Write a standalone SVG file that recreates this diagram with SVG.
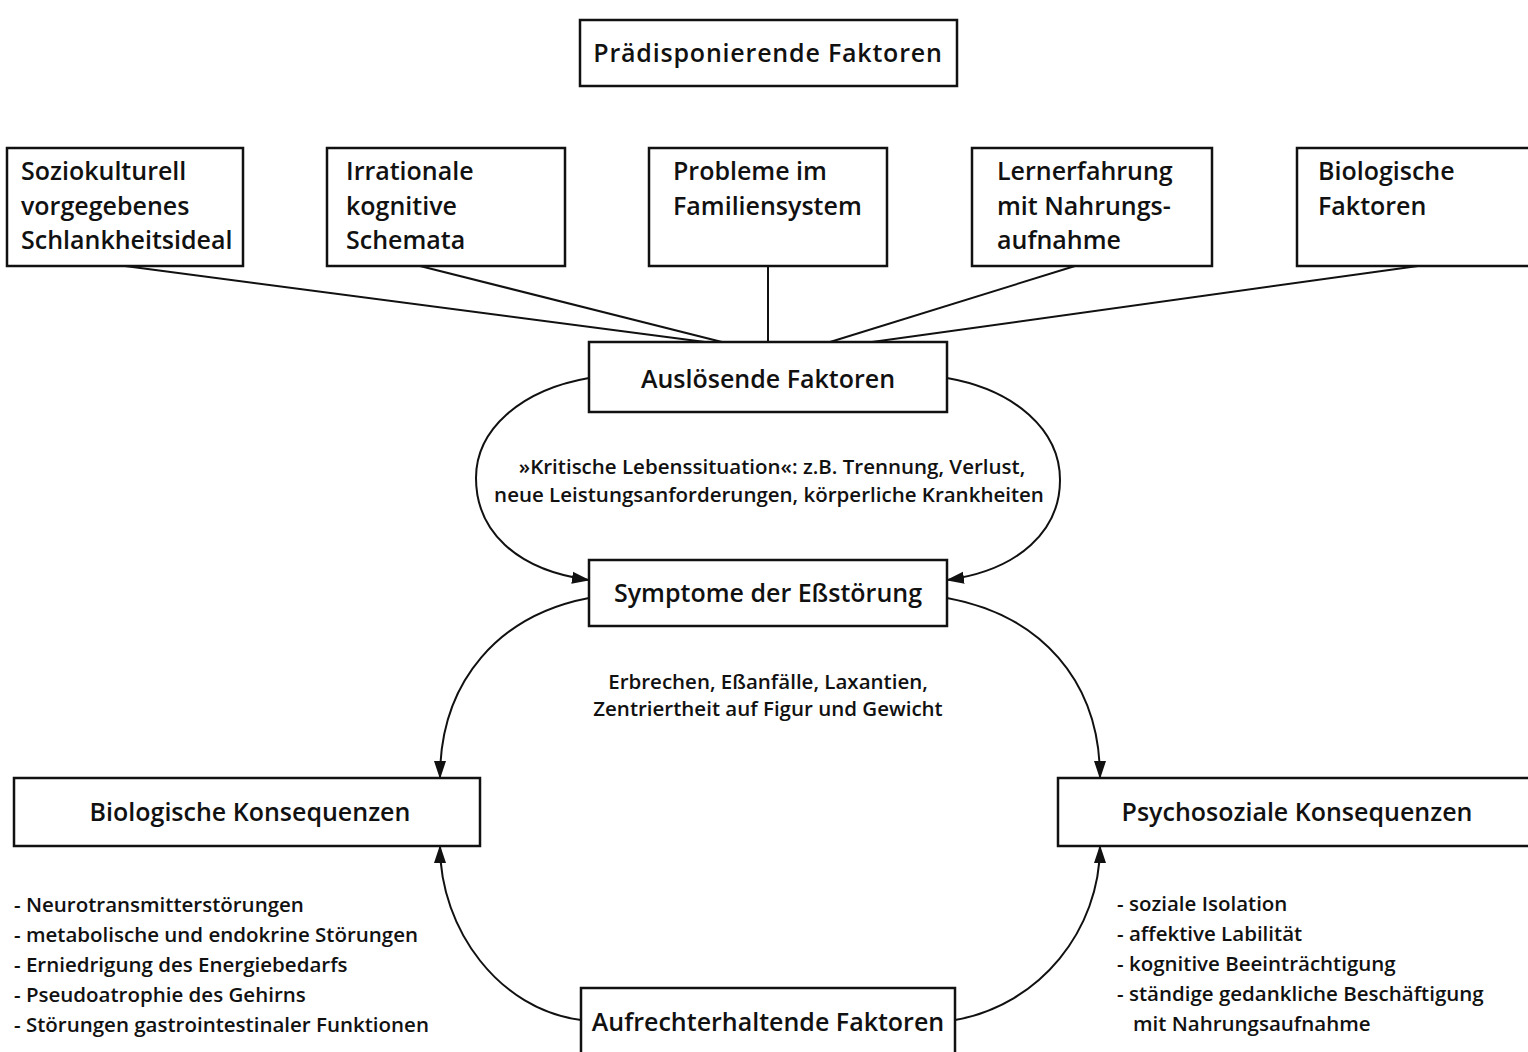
<svg xmlns="http://www.w3.org/2000/svg" width="1528" height="1052" viewBox="0 0 1528 1052">
<style>
.box{fill:#fff;stroke:#111;stroke-width:2.5}
.t{font-family:"Open Sans","Liberation Sans",sans-serif;font-size:25px;font-weight:600;fill:#111}
.s{font-family:"Open Sans","Liberation Sans",sans-serif;font-size:20.5px;font-weight:600;fill:#111}
.c{text-anchor:middle}
.ln{fill:none;stroke:#111;stroke-width:2}
</style>
<defs>
<marker id="ah" markerUnits="userSpaceOnUse" markerWidth="18" markerHeight="14" viewBox="0 0 18 14" refX="17" refY="7" orient="auto">
<path d="M0,1 L18,7 L0,13 Z" fill="#111"/>
</marker>
</defs>
<rect width="1528" height="1052" fill="#fff"/>
<g id="connectors">
<line class="ln" x1="125" y1="266" x2="705" y2="342"/>
<line class="ln" x1="420" y1="266" x2="722" y2="342"/>
<line class="ln" x1="768" y1="266" x2="768" y2="342"/>
<line class="ln" x1="1075" y1="266" x2="830" y2="342"/>
<line class="ln" x1="1418" y1="266" x2="872" y2="342"/>
<path class="ln" d="M589,378 C520,390 476,430 476,478 C476,530 515,570 589,580" marker-end="url(#ah)"/>
<path class="ln" d="M947,378 C1015,390 1060,430 1060,480 C1060,530 1020,570 947,580" marker-end="url(#ah)"/>
<path class="ln" d="M589,598 C500,615 440,680 440,778" marker-end="url(#ah)"/>
<path class="ln" d="M947,598 C1040,615 1100,680 1100,778" marker-end="url(#ah)"/>
<path class="ln" d="M581,1020 C500,1010 440,930 440,846" marker-end="url(#ah)"/>
<path class="ln" d="M955,1020 C1040,1005 1100,930 1100,846" marker-end="url(#ah)"/>
</g>
<g id="praedisponierend">
<rect class="box" x="580" y="20" width="377" height="66"/>
<text class="t c" x="768" y="62" letter-spacing="0.8">Prädisponierende Faktoren</text>
</g>
<g id="soziokulturell">
<rect class="box" x="7" y="148" width="236" height="118"/>
<text class="t" x="21" y="180">Soziokulturell</text>
<text class="t" x="21" y="215">vorgegebenes</text>
<text class="t" x="21" y="249">Schlankheitsideal</text>
</g>
<g id="irrational">
<rect class="box" x="327" y="148" width="238" height="118"/>
<text class="t" x="346" y="180">Irrationale</text>
<text class="t" x="346" y="215">kognitive</text>
<text class="t" x="346" y="249">Schemata</text>
</g>
<g id="familie">
<rect class="box" x="649" y="148" width="238" height="118"/>
<text class="t" x="673" y="180">Probleme im</text>
<text class="t" x="673" y="215">Familiensystem</text>
</g>
<g id="lernerfahrung">
<rect class="box" x="972" y="148" width="240" height="118"/>
<text class="t" x="997" y="180">Lernerfahrung</text>
<text class="t" x="997" y="215">mit Nahrungs-</text>
<text class="t" x="997" y="249">aufnahme</text>
</g>
<g id="biofaktoren">
<rect class="box" x="1297" y="148" width="240" height="118"/>
<text class="t" x="1318" y="180">Biologische</text>
<text class="t" x="1318" y="215">Faktoren</text>
</g>
<g id="ausloesend">
<rect class="box" x="589" y="342" width="358" height="70"/>
<text class="t c" x="768" y="388">Auslösende Faktoren</text>
</g>
<g id="kritisch">
<text class="s c" x="772" y="474">»Kritische Lebenssituation«: z.B. Trennung, Verlust,</text>
<text class="s c" x="769" y="502">neue Leistungsanforderungen, körperliche Krankheiten</text>
</g>
<g id="symptome">
<rect class="box" x="589" y="560" width="358" height="66"/>
<text class="t c" x="768" y="602">Symptome der Eßstörung</text>
</g>
<g id="symptomtext">
<text class="s c" x="768" y="689">Erbrechen, Eßanfälle, Laxantien,</text>
<text class="s c" x="768" y="716">Zentriertheit auf Figur und Gewicht</text>
</g>
<g id="biokons">
<rect class="box" x="14" y="778" width="466" height="68"/>
<text class="t c" x="250" y="821">Biologische Konsequenzen</text>
</g>
<g id="psychokons">
<rect class="box" x="1058" y="778" width="480" height="68"/>
<text class="t c" x="1297" y="821">Psychosoziale Konsequenzen</text>
</g>
<g id="aufrecht">
<rect class="box" x="581" y="988" width="374" height="80"/>
<text class="t c" x="768" y="1031">Aufrechterhaltende Faktoren</text>
</g>
<g id="biolist">
<text class="s" x="14" y="912">- Neurotransmitterstörungen</text>
<text class="s" x="14" y="942">- metabolische und endokrine Störungen</text>
<text class="s" x="14" y="972">- Erniedrigung des Energiebedarfs</text>
<text class="s" x="14" y="1002">- Pseudoatrophie des Gehirns</text>
<text class="s" x="14" y="1032">- Störungen gastrointestinaler Funktionen</text>
</g>
<g id="psycholist">
<text class="s" x="1117" y="911">- soziale Isolation</text>
<text class="s" x="1117" y="941">- affektive Labilität</text>
<text class="s" x="1117" y="971">- kognitive Beeinträchtigung</text>
<text class="s" x="1117" y="1001">- ständige gedankliche Beschäftigung</text>
<text class="s" x="1133" y="1031">mit Nahrungsaufnahme</text>
</g>
</svg>
